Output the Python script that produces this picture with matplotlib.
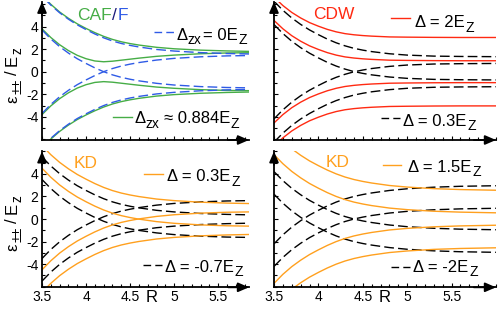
import matplotlib
matplotlib.use('Agg')
import matplotlib.pyplot as plt
from matplotlib.lines import Line2D
from matplotlib.ticker import MultipleLocator, FixedLocator, FuncFormatter, NullFormatter

plt.rcParams['font.family'] = ['Liberation Sans', 'DejaVu Sans']
plt.rcParams['axes.unicode_minus'] = False

# ---------------- data ----------------
R_left = [3.5, 3.6, 3.7, 3.8, 3.9, 4.0, 4.1, 4.2, 4.3, 4.4, 4.5, 4.6, 4.8, 5.0, 5.3, 5.6, 5.85]
R_right = [3.5, 3.6, 3.7, 3.8, 3.9, 4.0, 4.1, 4.2, 4.3, 4.4, 4.5, 4.6, 4.8, 5.0, 5.3, 5.6, 6.0]

# CAF/F panel: Delta_zx = 0 (blue dashed)
f_outer_up = [6.70, 5.90, 5.22, 4.65, 4.15, 3.73, 3.34, 3.00, 2.72, 2.50, 2.33, 2.19, 1.97, 1.83, 1.69, 1.61, 1.57]
f_inner_up = [3.70, 2.90, 2.22, 1.65, 1.15, 0.73, 0.34, 0.00, -0.28, -0.50, -0.67, -0.81, -1.03, -1.18, -1.32, -1.40, -1.43]
f_inner_dn = [-3.70, -2.90, -2.22, -1.65, -1.15, -0.73, -0.34, 0.00, 0.28, 0.50, 0.67, 0.81, 1.03, 1.18, 1.32, 1.40, 1.43]
f_outer_dn = [-6.70, -5.90, -5.22, -4.65, -4.15, -3.73, -3.34, -3.00, -2.72, -2.50, -2.33, -2.19, -1.97, -1.83, -1.69, -1.61, -1.57]
# CAF/F panel: Delta_zx = 0.884 (green solid)
caf_outer_up = [6.76, 5.97, 5.29, 4.73, 4.24, 3.83, 3.46, 3.13, 2.86, 2.65, 2.49, 2.36, 2.16, 2.03, 1.91, 1.84, 1.80]
caf_inner_up = [3.80, 3.03, 2.39, 1.87, 1.45, 1.15, 0.95, 0.88, 0.93, 1.02, 1.11, 1.20, 1.36, 1.47, 1.59, 1.66, 1.68]
caf_inner_dn = [-3.80, -3.03, -2.39, -1.87, -1.45, -1.15, -0.95, -0.88, -0.93, -1.02, -1.11, -1.20, -1.36, -1.47, -1.59, -1.66, -1.68]
caf_outer_dn = [-6.76, -5.97, -5.29, -4.73, -4.24, -3.83, -3.46, -3.13, -2.86, -2.65, -2.49, -2.36, -2.16, -2.03, -1.91, -1.84, -1.80]

# CDW panel: Delta = 2 (red solid)
cdw2_outer_up = [6.60, 5.86, 5.25, 4.76, 4.35, 4.03, 3.75, 3.53, 3.37, 3.27, 3.20, 3.15, 3.08, 3.06, 3.04, 3.03, 3.03]
cdw2_inner_up = [4.54, 3.80, 3.19, 2.70, 2.29, 1.97, 1.69, 1.47, 1.31, 1.21, 1.14, 1.09, 1.02, 1.00, 0.98, 0.97, 0.97]
cdw2_inner_dn = [-4.54, -3.80, -3.19, -2.70, -2.29, -1.97, -1.69, -1.47, -1.31, -1.21, -1.14, -1.09, -1.02, -1.00, -0.98, -0.97, -0.97]
cdw2_outer_dn = [-6.60, -5.86, -5.25, -4.76, -4.35, -4.03, -3.75, -3.53, -3.37, -3.27, -3.20, -3.15, -3.08, -3.06, -3.04, -3.03, -3.03]
# CDW panel: Delta = 0.3 (black dashed)
cdw03_outer_up = [6.24, 5.44, 4.76, 4.19, 3.70, 3.28, 2.89, 2.56, 2.29, 2.07, 1.91, 1.78, 1.59, 1.47, 1.38, 1.35, 1.33]
cdw03_inner_up = [4.18, 3.38, 2.70, 2.13, 1.64, 1.22, 0.83, 0.50, 0.23, 0.01, -0.15, -0.28, -0.47, -0.59, -0.68, -0.71, -0.73]
cdw03_inner_dn = [-4.18, -3.38, -2.70, -2.13, -1.64, -1.22, -0.83, -0.50, -0.23, -0.01, 0.15, 0.28, 0.47, 0.59, 0.68, 0.71, 0.73]
cdw03_outer_dn = [-6.24, -5.44, -4.76, -4.19, -3.70, -3.28, -2.89, -2.56, -2.29, -2.07, -1.91, -1.78, -1.59, -1.47, -1.38, -1.35, -1.33]

# KD panel (bottom left): Delta = 0.3 (orange solid)
kd03_a_up = [6.50, 5.70, 5.02, 4.45, 3.95, 3.53, 3.14, 2.80, 2.52, 2.30, 2.13, 1.99, 1.77, 1.63, 1.49, 1.41, 1.37]
kd03_b_up = [4.50, 3.70, 3.02, 2.45, 1.95, 1.53, 1.14, 0.80, 0.52, 0.30, 0.13, -0.01, -0.23, -0.38, -0.52, -0.60, -0.63]
kd03_b_dn = [-4.50, -3.70, -3.02, -2.45, -1.95, -1.53, -1.14, -0.80, -0.52, -0.30, -0.13, 0.01, 0.23, 0.38, 0.52, 0.60, 0.63]
kd03_a_dn = [-6.50, -5.70, -5.02, -4.45, -3.95, -3.53, -3.14, -2.80, -2.52, -2.30, -2.13, -1.99, -1.77, -1.63, -1.49, -1.41, -1.37]
# KD panel (bottom left): Delta = -0.7 (black dashed)
kdm07_a_up = [5.50, 4.70, 4.02, 3.45, 2.95, 2.53, 2.14, 1.80, 1.52, 1.30, 1.13, 0.99, 0.77, 0.63, 0.49, 0.41, 0.37]
kdm07_b_up = [3.50, 2.70, 2.02, 1.45, 0.95, 0.53, 0.14, -0.20, -0.48, -0.70, -0.87, -1.01, -1.23, -1.38, -1.52, -1.60, -1.63]
kdm07_b_dn = [-3.50, -2.70, -2.02, -1.45, -0.95, -0.53, -0.14, 0.20, 0.48, 0.70, 0.87, 1.01, 1.23, 1.38, 1.52, 1.60, 1.63]
kdm07_a_dn = [-5.50, -4.70, -4.02, -3.45, -2.95, -2.53, -2.14, -1.80, -1.52, -1.30, -1.13, -0.99, -0.77, -0.63, -0.49, -0.41, -0.37]

# KD panel (bottom right): Delta = 1.5 (orange solid)
kd15_a_up = [7.70, 6.90, 6.22, 5.65, 5.15, 4.73, 4.34, 4.00, 3.72, 3.50, 3.33, 3.19, 2.97, 2.83, 2.69, 2.61, 2.55]
kd15_b_up = [5.70, 4.90, 4.22, 3.65, 3.15, 2.73, 2.34, 2.00, 1.72, 1.50, 1.33, 1.19, 0.97, 0.83, 0.69, 0.61, 0.55]
kd15_b_dn = [-5.70, -4.90, -4.22, -3.65, -3.15, -2.73, -2.34, -2.00, -1.72, -1.50, -1.33, -1.19, -0.97, -0.83, -0.69, -0.61, -0.55]
kd15_a_dn = [-7.70, -6.90, -6.22, -5.65, -5.15, -4.73, -4.34, -4.00, -3.72, -3.50, -3.33, -3.19, -2.97, -2.83, -2.69, -2.61, -2.55]
# KD panel (bottom right): Delta = -2 (black dashed)
kdm2_a_up = [4.20, 3.40, 2.72, 2.15, 1.65, 1.23, 0.84, 0.50, 0.22, 0.00, -0.17, -0.31, -0.53, -0.68, -0.82, -0.90, -0.95]
kdm2_b_up = [2.20, 1.40, 0.72, 0.15, -0.35, -0.77, -1.16, -1.50, -1.78, -2.00, -2.17, -2.31, -2.53, -2.68, -2.82, -2.90, -2.95]
kdm2_b_dn = [-2.20, -1.40, -0.72, -0.15, 0.35, 0.77, 1.16, 1.50, 1.78, 2.00, 2.17, 2.31, 2.53, 2.68, 2.82, 2.90, 2.95]
kdm2_a_dn = [-4.20, -3.40, -2.72, -2.15, -1.65, -1.23, -0.84, -0.50, -0.22, 0.00, 0.17, 0.31, 0.53, 0.68, 0.82, 0.90, 0.95]

x_tick_labels = ['3.5', '4', '4.5', '5', '5.5']
y_tick_labels = ['-4', '-2', '0', '2', '4']

# ---------------- style ----------------
GREEN = '#46ad46'
BLUE = '#2f5be6'
NAVY = '#1c1c7a'
RED = '#ff2a12'
ORANGE = '#ffa01e'
BLACK = '#000000'
DASH = (7, 3)
LW = 1.0

W, H = 498, 309
fig = plt.figure(figsize=(W / 100, H / 100), dpi=100)
fig.patch.set_facecolor('white')


def make_ax(x0, x1, ytop, ybot, xmax, ylim, xlabels, ylabels):
    ax = fig.add_axes([x0 / W, 1 - ybot / H, (x1 - x0) / W, (ybot - ytop) / H])
    ax.set_xlim(3.5, xmax)
    ax.set_ylim(*ylim)
    for s in ('top', 'right'):
        ax.spines[s].set_visible(False)
    for s in ('left', 'bottom'):
        ax.spines[s].set_linewidth(1.3)
    ax.xaxis.set_major_locator(FixedLocator([float(t) for t in x_tick_labels]))
    ax.xaxis.set_minor_locator(MultipleLocator(0.1))
    ax.yaxis.set_major_locator(FixedLocator([float(t) for t in y_tick_labels]))
    ax.yaxis.set_minor_locator(MultipleLocator(1))
    ax.tick_params(which='both', direction='in', top=False, right=False, width=0.8,
                   labelsize=10, colors='black')
    ax.tick_params(which='major', length=3.2)
    ax.tick_params(which='minor', length=1.9)
    ax.tick_params(axis='x', pad=2.0)
    ax.tick_params(axis='y', pad=2.5)
    if xlabels:
        ax.xaxis.set_major_formatter(FuncFormatter(lambda v, p: x_tick_labels[p] if p < len(x_tick_labels) else ''))
    else:
        ax.xaxis.set_major_formatter(NullFormatter())
    if ylabels:
        ax.yaxis.set_major_formatter(FuncFormatter(lambda v, p: y_tick_labels[p] if p < len(y_tick_labels) else ''))
    else:
        ax.yaxis.set_major_formatter(NullFormatter())
    arrow = dict(arrowstyle='-|>,head_length=0.65,head_width=0.28', color='black', lw=1.3,
                 shrinkA=0, shrinkB=0, mutation_scale=10)
    ax.annotate('', xy=(0, 1.0), xycoords='axes fraction', xytext=(0, 0.9),
                arrowprops=arrow, annotation_clip=False)
    ax.annotate('', xy=(1.0, 0), xycoords='axes fraction', xytext=(0.9, 0),
                arrowprops=arrow, annotation_clip=False)
    return ax


ax_tl = make_ax(42, 249, 1.7, 140.0, 5.85, (-6.05, 6.2), False, True)
ax_tr = make_ax(274, 496, 1.7, 140.0, 6.0, (-6.05, 6.2), False, False)
ax_bl = make_ax(42, 249, 151.3, 287.3, 5.85, (-6.05, 6.0), True, True)
ax_br = make_ax(274, 496, 151.3, 287.3, 6.0, (-6.05, 6.0), True, False)

# top-left
for y in (caf_outer_up, caf_inner_up, caf_inner_dn, caf_outer_dn):
    ax_tl.plot(R_left, y, color=GREEN, lw=LW)
for y in (f_outer_up, f_inner_up, f_inner_dn, f_outer_dn):
    ax_tl.plot(R_left, y, color=BLUE, lw=LW, dashes=DASH)
# top-right
for y in (cdw03_outer_up, cdw03_inner_up, cdw03_inner_dn, cdw03_outer_dn):
    ax_tr.plot(R_right, y, color=BLACK, lw=LW, dashes=DASH)
for y in (cdw2_outer_up, cdw2_inner_up, cdw2_inner_dn, cdw2_outer_dn):
    ax_tr.plot(R_right, y, color=RED, lw=LW)
# bottom-left
for y in (kdm07_a_up, kdm07_b_up, kdm07_b_dn, kdm07_a_dn):
    ax_bl.plot(R_left, y, color=BLACK, lw=LW, dashes=DASH)
for y in (kd03_a_up, kd03_b_up, kd03_b_dn, kd03_a_dn):
    ax_bl.plot(R_left, y, color=ORANGE, lw=LW)
# bottom-right
for y in (kdm2_a_up, kdm2_b_up, kdm2_b_dn, kdm2_a_dn):
    ax_br.plot(R_right, y, color=BLACK, lw=LW, dashes=DASH)
for y in (kd15_a_up, kd15_b_up, kd15_b_dn, kd15_a_dn):
    ax_br.plot(R_right, y, color=ORANGE, lw=LW)

# ---------------- annotations ----------------
renderer = fig.canvas.get_renderer()


def rich(x, y, pieces, rot=False, gap=0.8):
    """Draw text pieces one after another; piece = (text, size, drop_px, color[, extra_gap])."""
    pos = x if not rot else y
    for piece in pieces:
        s, size, drop, color = piece[:4]
        extra = piece[4] if len(piece) > 4 else 0.0
        if not rot:
            pos += extra
            t = fig.text(pos / W, 1 - (y + drop) / H, s, fontsize=size, color=color,
                         ha='left', va='baseline')
            pos += t.get_window_extent(renderer).width + gap
        else:
            pos -= extra
            t = fig.text((x + drop) / W, 1 - pos / H, s, fontsize=size, color=color,
                         rotation=90, rotation_mode='anchor', ha='left', va='baseline')
            pos -= t.get_window_extent(renderer).height + gap


def sample(x0, x1, y, color, dashed):
    kw = dict(color=color, lw=LW, transform=fig.transFigure)
    if dashed:
        kw['dashes'] = (5.5, 3)
    fig.add_artist(Line2D([x0 / W, x1 / W], [1 - y / H, 1 - y / H], **kw))


LEG = 12
SUB = 10
DROP = 4.5
TITLE = 12.5
K = 'black'

# titles
rich(77, 20, [('CAF', TITLE, 0, GREEN), ('/', TITLE, 0, NAVY), ('F', TITLE, 0, BLUE)])
rich(313, 19, [('CDW', TITLE, 0, RED)])
rich(74, 168, [('KD', TITLE, 0, ORANGE)])
rich(326, 167, [('KD', TITLE, 0, ORANGE)])

# legends
sample(154, 174, 32.3, BLUE, True)
rich(176, 40, [('Δ', LEG, 0, K), ('zx', SUB, DROP, K), ('= 0E', LEG, 0, K), ('Z', SUB, DROP, K)])
sample(113, 132, 116.7, GREEN, False)
rich(134, 123, [('Δ', LEG, 0, K), ('zx', SUB, DROP, K), ('≈ 0.884E', LEG, 0, K, 3.0), ('Z', SUB, DROP, K)])

sample(391, 410, 18.3, RED, False)
rich(415, 27, [('Δ = 2E', LEG, 0, K), ('Z', SUB, DROP, K)])
sample(381, 400, 118.3, BLACK, True)
rich(403, 126, [('Δ = 0.3E', LEG, 0, K), ('Z', SUB, DROP, K)])

sample(144, 163, 174, ORANGE, False)
rich(167, 181, [('Δ = 0.3E', LEG, 0, K), ('Z', SUB, DROP, K)])
sample(143, 162, 265, BLACK, True)
rich(165, 272, [('Δ = -0.7E', LEG, 0, K), ('Z', SUB, DROP, K)])

sample(383, 401, 165, ORANGE, False)
rich(408, 172, [('Δ = 1.5E', LEG, 0, K), ('Z', SUB, DROP, K)])
sample(391, 410, 267, BLACK, True)
rich(413, 272, [('Δ = -2E', LEG, 0, K), ('Z', SUB, DROP, K)])

# y labels (rotated, built upward)
for ybase in (103, 251):
    rich(17, ybase, [('ε', LEG, 0, K), ('±±', SUB, DROP, K), ('/', LEG, 0, K, 2.0),
                     ('E', LEG, 0, K, 3.0), ('z', SUB, DROP, K)],
         rot=True, gap=1.5)

# x labels
fig.text(152 / W, 1 - 298 / H, 'R', fontsize=LEG, ha='center', va='center')
fig.text(385 / W, 1 - 298 / H, 'R', fontsize=LEG, ha='center', va='center')

fig.savefig('out.png', dpi=100, facecolor='white')
